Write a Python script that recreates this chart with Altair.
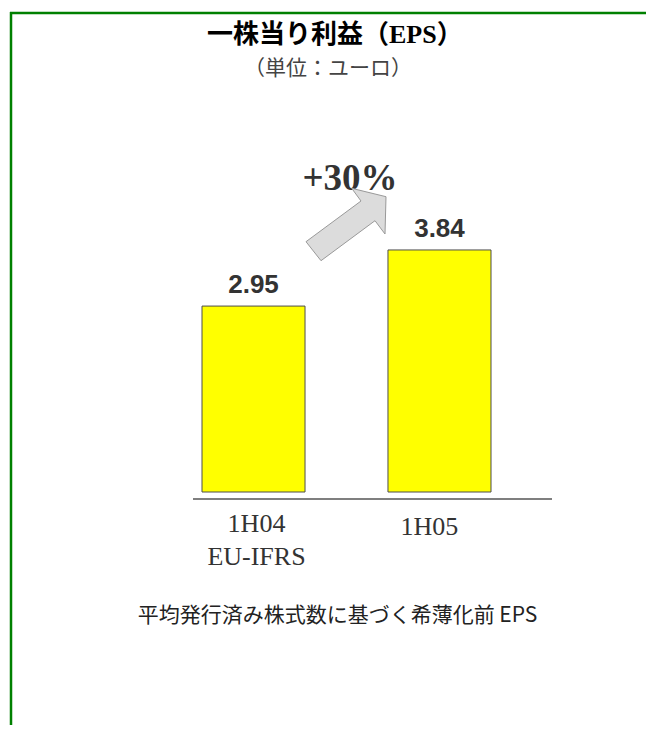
import altair as alt
import pandas as pd

# ---- data ----
categories = ["1H04", "1H05"]
eps_values = [2.95, 3.84]
value_labels = ["2.95", "3.84"]
category_labels = ["1H04\nEU-IFRS", "1H05"]
growth_label = "+30%"
title_text = "一株当り利益（EPS）"
subtitle_text = "（単位：ユーロ）"
footnote_text = "平均発行済み株式数に基づく希薄化前 EPS"

df = pd.DataFrame({"cat": categories, "eps": eps_values,
                   "vlabel": value_labels, "clabel": category_labels})
one = alt.Data(values=[{"k": 1}])

W, H = 638, 717
xs = alt.Scale(domain=categories, range=[194, 483], paddingInner=0.446, paddingOuter=0)
ys = alt.Scale(domain=[0, 7.679], range=[484, 0])

X = alt.X("cat:N", scale=xs, axis=None, sort=categories)
Y = alt.Y("eps:Q", scale=ys, axis=None)

bars = alt.Chart(df).mark_bar(color="#ffff00", stroke="#4d4d4d", strokeWidth=1).encode(x=X, y=Y)

vals = alt.Chart(df).mark_text(font="Liberation Sans", fontWeight="bold", fontSize=26,
                               color="#333333", baseline="alphabetic", dy=-13).encode(
    x=X, y=Y, text="vlabel:N")

lab1 = alt.Chart(df).transform_filter(alt.datum.cat == categories[0]).mark_text(
    font="Liberation Serif", fontSize=26, color="#333333", baseline="alphabetic",
    lineBreak="\n", lineHeight=33, dx=3).encode(x=X, y=alt.value(523.7), text="clabel:N")
lab2 = alt.Chart(df).transform_filter(alt.datum.cat == categories[1]).mark_text(
    font="Liberation Serif", fontSize=26, color="#333333", baseline="alphabetic",
    dx=-10).encode(x=X, y=alt.value(527), text="clabel:N")

baseline_rule = alt.Chart(one).mark_rule(color="#555555", strokeWidth=1.5).encode(
    x=alt.value(185), x2=alt.value(544), y=alt.value(491))

growth = alt.Chart(one).mark_text(font="Liberation Serif", fontWeight="bold", fontSize=37,
                                  color="#333333", baseline="alphabetic").encode(
    x=alt.value(342), y=alt.value(182), text=alt.value(growth_label))

arrow_path = ("M -1 0.43 L -0.625 0.905 L 0.725 -0.095 L 0.975 0.2375 "
              "L 1 -0.695 L 0.1425 -0.905 L 0.375 -0.5875 Z")
arrow = alt.Chart(one).mark_point(shape=arrow_path, size=6400, filled=True, opacity=1,
                                  fill="#dcdcdc", stroke="#999999", strokeWidth=1).encode(
    x=alt.value(338), y=alt.value(216.5))

title = alt.Chart(one).mark_text(font="Liberation Serif, Noto Sans CJK JP", fontWeight="bold",
                                 fontSize=26, color="#000000", align="left",
                                 baseline="alphabetic").encode(
    x=alt.value(199), y=alt.value(34.5), text=alt.value(title_text))

subtitle = alt.Chart(one).mark_text(font="Noto Sans CJK JP", fontSize=21, color="#444444",
                                    align="center", baseline="alphabetic").encode(
    x=alt.value(320), y=alt.value(67), text=alt.value(subtitle_text))

footnote = alt.Chart(one).mark_text(font="Noto Sans CJK JP", fontSize=21, color="#222222",
                                    align="center", baseline="alphabetic").encode(
    x=alt.value(329.5), y=alt.value(613.5), text=alt.value(footnote_text))

border_left = alt.Chart(one).mark_rule(color="#008000", strokeWidth=2.5).encode(
    x=alt.value(3), y=alt.value(4), y2=alt.value(717))
border_top = alt.Chart(one).mark_rule(color="#008000", strokeWidth=2.5).encode(
    x=alt.value(2), x2=alt.value(638), y=alt.value(5))

chart = alt.layer(
    bars, vals, lab1, lab2, baseline_rule, growth, arrow,
    title, subtitle, footnote, border_left, border_top
).properties(
    width=W, height=H, padding=0,
    autosize=alt.AutoSizeParams(type="none")
).configure_view(strokeWidth=0)

chart.save("out.html", embed_options={"renderer": "svg", "actions": False})
